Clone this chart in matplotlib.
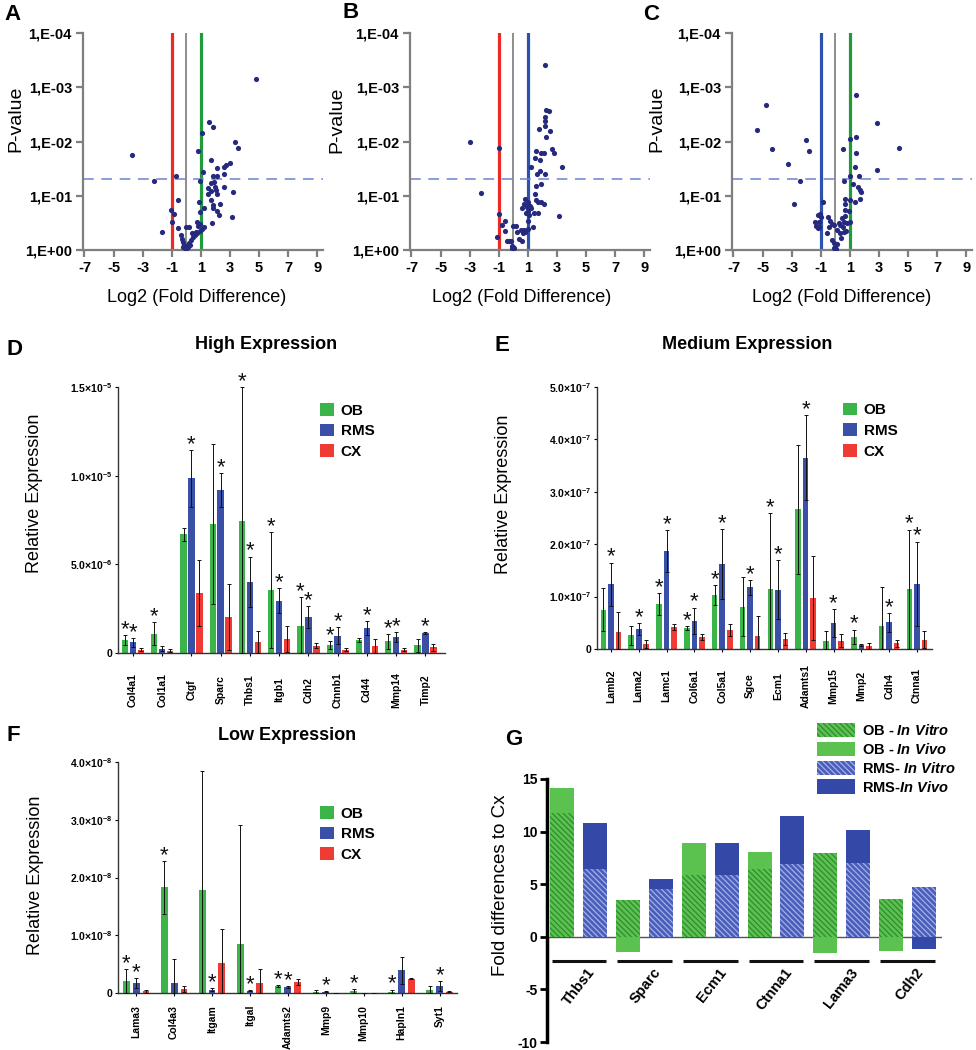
import numpy as np
import matplotlib.pyplot as plt
from matplotlib.patches import Patch

plt.rcParams['font.family'] = ['Liberation Sans', 'DejaVu Sans']
plt.rcParams['mathtext.fontset'] = 'custom'
plt.rcParams['mathtext.rm'] = 'Liberation Sans:bold'
plt.rcParams['mathtext.it'] = 'Liberation Sans:italic:bold'
plt.rcParams['mathtext.bf'] = 'Liberation Sans:bold'
plt.rcParams['mathtext.default'] = 'rm'
plt.rcParams['axes.unicode_minus'] = False
plt.rcParams['hatch.linewidth'] = 0.9

# ---------------- volcano data (log2 fold difference, p-value) ----------------
a_fc = [4.80, -3.73, 1.53, 1.85, 1.09, 3.36, 3.57, 0.79, 1.72, 3.02, 2.74, 2.58,
        2.10, 1.18, 2.56, 1.87, 2.10, -0.72, -2.19, 0.95, 1.94, 1.72, 1.47, 1.98,
        2.56, 2.05, 1.73, 3.24, 1.47, 2.08, -0.56, 1.72, 0.88, 2.30, 1.83, 1.23,
        1.87, -1.07, 2.10, 0.95, -0.86, 2.28, 3.16, -1.00, 0.75, 1.78, 0.95, 0.84,
        1.23, -0.56, 0.00, 0.21, 1.05, 0.95, -1.66, 0.68, 0.40, -0.36, 0.58, -0.29,
        0.47, 0.31, -0.22, 0.21, -0.13, 0.06, -0.06, 0.15, -0.20, 0.01, 0.26, 0.75]
a_p = [7.1e-4, 0.0175, 0.0043, 0.0053, 0.0071, 0.010, 0.0134, 0.0148, 0.022, 0.025,
       0.027, 0.029, 0.031, 0.036, 0.039, 0.043, 0.043, 0.043, 0.054, 0.054, 0.055,
       0.059, 0.071, 0.068, 0.068, 0.078, 0.083, 0.087, 0.093, 0.094, 0.12, 0.12,
       0.13, 0.14, 0.15, 0.17, 0.17, 0.18, 0.19, 0.20, 0.22, 0.23, 0.25, 0.30, 0.31,
       0.32, 0.33, 0.36, 0.37, 0.39, 0.38, 0.38, 0.41, 0.44, 0.46, 0.46, 0.49, 0.54,
       0.53, 0.64, 0.58, 0.65, 0.70, 0.73, 0.81, 0.84, 0.92, 0.89, 0.87, 0.96, 0.80,
       0.48]

b_fc = [2.17, 2.24, 2.49, 2.15, 2.19, 2.17, 1.74, 2.51, 2.28, -2.97, -0.96, 2.69,
        2.79, 1.53, 2.10, 1.89, 1.48, 1.85, 1.19, 3.38, 1.83, 1.64, 2.17, 1.89, 1.58,
        -2.21, 1.46, 0.80, 1.53, 1.67, 1.89, 2.08, 1.03, 0.71, 1.14, 0.62, 0.94, 3.11,
        -0.98, 0.89, 1.42, 1.67, 1.10, 1.03, -0.59, -0.75, -0.02, 0.21, 1.35, 1.03,
        0.75, -0.59, 0.84, 0.25, 0.64, -1.14, 0.37, 0.62, -0.32, -0.43, -0.18, -0.11,
        -0.02, 0.07, -0.11, 0.53, 0.98, 1.21]
b_p = [3.9e-4, 0.0026, 0.0027, 0.0036, 0.0042, 0.0052, 0.006, 0.0063, 0.0083, 0.010,
       0.013, 0.0135, 0.016, 0.015, 0.016, 0.016, 0.020, 0.022, 0.029, 0.029, 0.035,
       0.039, 0.039, 0.062, 0.066, 0.089, 0.092, 0.114, 0.12, 0.13, 0.13, 0.14, 0.13,
       0.14, 0.155, 0.17, 0.16, 0.24, 0.22, 0.21, 0.21, 0.21, 0.23, 0.29, 0.29, 0.34,
       0.36, 0.36, 0.38, 0.41, 0.43, 0.45, 0.47, 0.47, 0.49, 0.58, 0.63, 0.67, 0.67,
       0.67, 0.69, 0.83, 0.89, 0.92, 0.92, 0.43, 0.19, 0.17]

c_fc = [1.45, -4.75, 2.84, -5.41, 1.41, 1.00, -2.02, -4.34, 0.55, 4.36, -1.84, 1.43,
        -3.23, 1.36, 2.84, 1.02, 1.64, -2.45, 0.59, 1.23, 1.57, 1.68, 1.75, 1.70,
        1.34, 1.02, 0.64, -2.84, -0.86, 0.70, 0.68, 0.95, -1.05, -1.20, -0.95, 0.70,
        -0.50, 0.43, 1.00, -1.36, -1.09, 0.80, -0.25, 0.59, -1.32, -1.09, -0.07, 0.32,
        -0.41, 0.50, -1.20, 0.11, 0.77, 0.59, -0.57, 0.32, 0.39, -0.25, -0.11, 0.11,
        0.00, -0.11, 0.07, -0.36, 0.23]
c_p = [0.0014, 0.0021, 0.0045, 0.0061, 0.0083, 0.0089, 0.0095, 0.0137, 0.0135, 0.013,
       0.015, 0.016, 0.026, 0.029, 0.033, 0.043, 0.043, 0.053, 0.053, 0.061, 0.068,
       0.078, 0.087, 0.115, 0.13, 0.12, 0.116, 0.14, 0.13, 0.14, 0.18, 0.19, 0.22,
       0.23, 0.25, 0.24, 0.25, 0.26, 0.30, 0.31, 0.31, 0.32, 0.33, 0.31, 0.36, 0.37,
       0.35, 0.35, 0.38, 0.38, 0.40, 0.42, 0.45, 0.46, 0.48, 0.48, 0.61, 0.65, 0.75,
       0.78, 0.87, 0.93, 0.97, 0.29, 0.32]

p_ticks = [1, 1e-1, 1e-2, 1e-3, 1e-4]
p_labels = ['1,E+00', '1,E-01', '1,E-02', '1,E-03', '1,E-04']

# ---------------- D: high expression (x 1e-6) ----------------
d_genes = ['Col4a1', 'Col1a1', 'Ctgf', 'Sparc', 'Thbs1', 'Itgb1', 'Cdh2', 'Ctnnb1',
           'Cd44', 'Mmp14', 'Timp2']
d_ob = [0.75, 1.09, 6.70, 7.26, 7.45, 3.56, 1.54, 0.47, 0.73, 0.66, 0.43]
d_ob_sd = [0.28, 0.64, 0.37, 4.50, 7.55, 3.25, 1.61, 0.22, 0.11, 0.41, 0.36]
d_rms = [0.60, 0.24, 9.85, 9.19, 4.03, 2.96, 2.03, 0.98, 1.41, 0.90, 1.13]
d_rms_sd = [0.25, 0.14, 1.59, 0.94, 1.41, 0.70, 0.60, 0.46, 0.37, 0.26, 0.05]
d_cx = [0.19, 0.13, 3.38, 2.03, 0.60, 0.79, 0.41, 0.19, 0.38, 0.19, 0.32]
d_cx_sd = [0.09, 0.10, 1.87, 1.87, 0.66, 0.71, 0.15, 0.09, 0.41, 0.09, 0.21]
d_ob_star = [1, 1, 0, 0, 1, 1, 1, 1, 0, 1, 0]
d_rms_star = [1, 0, 1, 1, 1, 1, 1, 1, 1, 1, 1]
d_yticks = [0, 5, 10, 15]
d_ylabels = ['0', '5.0×10$^{-6}$', '1.0×10$^{-5}$', '1.5×10$^{-5}$']

# ---------------- E: medium expression (x 1e-7) ----------------
e_genes = ['Lamb2', 'Lama2', 'Lamc1', 'Col6a1', 'Col5a1', 'Sgce', 'Ecm1', 'Adamts1',
           'Mmp15', 'Mmp2', 'Cdh4', 'Ctnna1']
e_ob = [0.75, 0.26, 0.86, 0.40, 1.03, 0.81, 1.15, 2.67, 0.15, 0.23, 0.43, 1.14]
e_ob_sd = [0.41, 0.18, 0.21, 0.04, 0.19, 0.57, 1.44, 1.23, 0.19, 0.14, 0.76, 1.14]
e_rms = [1.24, 0.38, 1.87, 0.54, 1.62, 1.18, 1.13, 3.65, 0.49, 0.07, 0.51, 1.24]
e_rms_sd = [0.41, 0.11, 0.40, 0.25, 0.67, 0.14, 0.56, 0.81, 0.27, 0.02, 0.18, 0.81]
e_cx = [0.32, 0.095, 0.42, 0.23, 0.36, 0.25, 0.19, 0.98, 0.16, 0.05, 0.11, 0.18]
e_cx_sd = [0.38, 0.07, 0.06, 0.06, 0.11, 0.38, 0.11, 0.80, 0.13, 0.06, 0.07, 0.16]
e_ob_star = [0, 0, 1, 1, 1, 0, 1, 0, 0, 1, 0, 1]
e_rms_star = [1, 1, 1, 1, 1, 1, 1, 1, 1, 0, 1, 1]
e_yticks = [0, 1, 2, 3, 4, 5]
e_ylabels = ['0', '1.0×10$^{-7}$', '2.0×10$^{-7}$', '3.0×10$^{-7}$', '4.0×10$^{-7}$',
             '5.0×10$^{-7}$']

# ---------------- F: low expression (x 1e-8) ----------------
f_genes = ['Lama3', 'Col4a3', 'Itgam', 'Itgal', 'Adamts2', 'Mmp9', 'Mmp10', 'Hapln1', 'Syt1']
f_ob = [0.20, 1.83, 1.78, 0.84, 0.12, 0.02, 0.03, 0.01, 0.06]
f_ob_sd = [0.22, 0.46, 2.07, 2.07, 0.02, 0.04, 0.04, 0.05, 0.06]
f_rms = [0.17, 0.18, 0.06, 0.04, 0.10, 0.02, 0.005, 0.39, 0.12]
f_rms_sd = [0.09, 0.41, 0.02, 0.01, 0.02, 0.01, 0.0, 0.24, 0.08]
f_cx = [0.03, 0.07, 0.52, 0.17, 0.19, 0.005, 0.005, 0.25, 0.02]
f_cx_sd = [0.03, 0.05, 0.58, 0.25, 0.06, 0.0, 0.0, 0.01, 0.01]
f_ob_star = [1, 1, 0, 0, 1, 0, 1, 1, 0]
f_rms_star = [1, 0, 1, 1, 1, 1, 0, 0, 1]
f_yticks = [0, 1, 2, 3, 4]
f_ylabels = ['0', '1.0×10$^{-8}$', '2.0×10$^{-8}$', '3.0×10$^{-8}$', '4.0×10$^{-8}$']

# ---------------- G: fold differences to Cx ----------------
g_genes = ['Thbs1', 'Sparc', 'Ecm1', 'Ctnna1', 'Lama3', 'Cdh2']
g_ob_vitro = [11.75, 3.54, 5.9, 6.4, 8.0, 3.63]
g_ob_vivo = [14.1, -1.48, 8.9, 8.05, -1.58, -1.33]
g_rms_vitro = [6.4, 4.5, 5.85, 6.95, 7.0, 4.74]
g_rms_vivo = [10.8, 5.53, 8.9, 11.5, 10.17, -1.17]

GREEN = '#3bb54a'
BLUE = '#3a4fa6'
RED = '#ee3b33'
DOT = '#262a7e'

W, H = 976, 1050
fig = plt.figure(figsize=(W / 100, H / 100), dpi=100)


def add_ax(x0, y0, x1, y1):
    # box in pixels: left, top, right, bottom
    return fig.add_axes([x0 / W, 1 - y1 / H, (x1 - x0) / W, (y1 - y0) / H])


def volcano(ax, fc, pv, left_col, right_col):
    ax.axvline(-1, color=left_col, lw=2.3, zorder=1)
    ax.axvline(0, color='#858585', lw=1.3, zorder=1)
    ax.axvline(1, color=right_col, lw=2.3, zorder=1)
    ax.axhline(0.05, color='#6f80d2', lw=1.1, dashes=(7, 5), zorder=1)
    ax.scatter(fc, pv, s=14, color=DOT, lw=0, zorder=3)
    ax.set_yscale('log')
    ax.set_ylim(1, 1e-4)
    ax.set_xlim(-7.1, 9.4)
    ax.yaxis.set_minor_locator(plt.NullLocator())
    ax.set_yticks(p_ticks)
    ax.set_yticklabels(p_labels)
    ax.set_xticks(np.arange(-7, 10, 2))
    for s in ['top', 'right']:
        ax.spines[s].set_visible(False)
    for s in ['left', 'bottom']:
        ax.spines[s].set_color('#7f7f7f')
        ax.spines[s].set_linewidth(1.6)
    ax.tick_params(color='#7f7f7f', width=1.6, length=5, labelsize=10.5, pad=3)
    plt.setp(ax.get_xticklabels() + ax.get_yticklabels(), fontweight='bold')


ax_a = add_ax(83, 33, 323, 250)
volcano(ax_a, a_fc, a_p, '#ee2a24', '#1f9a3c')
ax_b = add_ax(410, 33, 650, 250)
volcano(ax_b, b_fc, b_p, '#ee2a24', '#2c52b0')
ax_c = add_ax(732, 33, 972, 250)
volcano(ax_c, c_fc, c_p, '#2c52b0', '#1f9a3c')

for x, y in [(16, 119), (337, 120), (657, 119)]:
    fig.text(x / W, 1 - y / H, 'P-value', rotation=90, ha='center', va='center', fontsize=14)
for x in [197, 522, 842]:
    fig.text(x / W, 1 - 297 / H, 'Log2 (Fold Difference)', ha='center', va='center', fontsize=13)


def expr_panel(ax, genes, ob, ob_sd, rms, rms_sd, cx, cx_sd, ob_star, rms_star,
               off, width, yticks, ylabels, xlim, lab_size, lab_pad, centered):
    x = np.arange(len(genes))
    series = [(ob, ob_sd, GREEN, -off, ob_star), (rms, rms_sd, BLUE, 0, rms_star),
              (cx, cx_sd, RED, off, None)]
    for vals, sds, col, dx, stars in series:
        vals = np.array(vals)
        sds = np.array(sds)
        ax.bar(x + dx, vals, width, color=col, zorder=2)
        ax.errorbar(x + dx, vals, yerr=[np.minimum(sds, vals), sds], fmt='none',
                     ecolor='#111111', elinewidth=0.7, capsize=1.6, capthick=0.7,
                     zorder=3, clip_on=False)
        if stars is not None:
            for i, s in enumerate(stars):
                if s:
                    ax.text(x[i] + dx, vals[i] + sds[i], '*', ha='center', va='baseline',
                            fontsize=16, color='#111111')
    ax.set_xlim(*xlim)
    ax.set_ylim(yticks[0], yticks[-1])
    ax.set_yticks(yticks)
    ax.set_yticklabels(ylabels)
    ax.set_xticks(x)
    ax.set_xticklabels(genes, rotation=90, fontsize=lab_size, fontweight='bold')
    if centered:
        for lbl in ax.get_xticklabels():
            lbl.set_va('center')
    for s in ['top', 'right']:
        ax.spines[s].set_visible(False)
    for s in ['left', 'bottom']:
        ax.spines[s].set_color('#333333')
        ax.spines[s].set_linewidth(1.0)
    ax.tick_params(axis='y', length=2.5, width=0.8, labelsize=7.5, pad=1.5)
    ax.tick_params(axis='x', length=2.5, width=0.8, pad=lab_pad)
    plt.setp(ax.get_yticklabels(), fontweight='bold')
    handles = [Patch(facecolor=GREEN), Patch(facecolor=BLUE), Patch(facecolor=RED)]
    return handles


legend_kw = dict(loc='upper left', frameon=False, prop={'weight': 'bold', 'size': 11},
                 handlelength=0.9, handleheight=0.9, handletextpad=0.45,
                 labelspacing=0.4, borderpad=0, borderaxespad=0)

ax_d = add_ax(118, 387, 445, 653)
h = expr_panel(ax_d, d_genes, d_ob, d_ob_sd, d_rms, d_rms_sd, d_cx, d_cx_sd,
               d_ob_star, d_rms_star, 0.27, 0.22, d_yticks, d_ylabels, (-0.51, 10.67),
               7.5, 24, True)
ax_d.legend(h, ['OB', 'RMS', 'CX'], bbox_to_anchor=(0.618, 0.94), **legend_kw)
fig.text(266 / W, 1 - 345 / H, 'High Expression', ha='center', va='center',
         fontsize=13, fontweight='bold')
fig.text(35 / W, 1 - 493 / H, 'Relative Expression', rotation=90, ha='center',
         va='center', fontsize=13)

ax_e = add_ax(597, 387, 932, 649)
h = expr_panel(ax_e, e_genes, e_ob, e_ob_sd, e_rms, e_rms_sd, e_cx, e_cx_sd,
               e_ob_star, e_rms_star, 0.27, 0.2, e_yticks, e_ylabels, (-0.5, 11.54),
               7.5, 24, True)
ax_e.legend(h, ['OB', 'RMS', 'CX'], bbox_to_anchor=(0.734, 0.94), **legend_kw)
fig.text(747 / W, 1 - 345 / H, 'Medium Expression', ha='center', va='center',
         fontsize=13, fontweight='bold')
fig.text(503 / W, 1 - 494 / H, 'Relative Expression', rotation=90, ha='center',
         va='center', fontsize=13)

ax_f = add_ax(118, 762, 457, 993)
h = expr_panel(ax_f, f_genes, f_ob, f_ob_sd, f_rms, f_rms_sd, f_cx, f_cx_sd,
               f_ob_star, f_rms_star, 0.26, 0.18, f_yticks, f_ylabels, (-0.48, 8.46),
               7.5, 6, False)
ax_f.legend(h, ['OB', 'RMS', 'CX'], bbox_to_anchor=(0.596, 0.81), **legend_kw)
fig.text(287 / W, 1 - 736 / H, 'Low Expression', ha='center', va='center',
         fontsize=13, fontweight='bold')
fig.text(36 / W, 1 - 875 / H, 'Relative Expression', rotation=90, ha='center',
         va='center', fontsize=13)

# ---------------- G ----------------
ax_g = add_ax(547, 779, 942, 1042)
G_LIGHT = '#5cc24f'
G_HATCH = '#2f8a33'
B_SOLID = '#3448a8'
B_VITRO = '#4a5dba'
B_HATCH = '#a3b0e6'
HATCH = '\\\\\\\\\\\\'
xg = np.arange(len(g_genes)) * 2
ax_g.bar(xg, g_ob_vivo, 0.73, color=G_LIGHT, lw=0, zorder=2)
ax_g.bar(xg, g_ob_vitro, 0.73, facecolor=G_LIGHT, edgecolor=G_HATCH, hatch=HATCH,
         lw=0, zorder=3)
ax_g.bar(xg + 1, g_rms_vivo, 0.73, color=B_SOLID, lw=0, zorder=2)
ax_g.bar(xg + 1, g_rms_vitro, 0.73, facecolor=B_VITRO, edgecolor=B_HATCH, hatch=HATCH,
         lw=0, zorder=3)
ax_g.axhline(0, color='#555555', lw=1.0, zorder=1)
ax_g.hlines([-2.3] * len(g_genes), xg + 0.5 - 0.83, xg + 0.5 + 0.83, color='#111111',
            lw=2.2)
for i, g in enumerate(g_genes):
    ax_g.text(xg[i] + 0.75, -2.75, g, rotation=52, ha='right', va='top',
              rotation_mode='anchor', fontsize=10.5, fontweight='bold')
ax_g.set_xlim(-0.47, 11.55)
ax_g.set_ylim(-10, 15)
ax_g.set_yticks([-10, -5, 0, 5, 10, 15])
ax_g.set_xticks([])
for s in ['top', 'right', 'bottom']:
    ax_g.spines[s].set_visible(False)
ax_g.spines['left'].set_linewidth(2.5)
ax_g.tick_params(axis='y', length=5, width=2, labelsize=10, pad=2)
plt.setp(ax_g.get_yticklabels(), fontweight='bold')
g_handles = [Patch(facecolor=G_LIGHT, edgecolor=G_HATCH, hatch=HATCH, lw=0),
             Patch(facecolor=G_LIGHT, lw=0),
             Patch(facecolor=B_VITRO, edgecolor=B_HATCH, hatch=HATCH, lw=0),
             Patch(facecolor=B_SOLID, lw=0)]
g_labels = [r'OB - $\mathit{In\ Vitro}$', r'OB - $\mathit{In\ Vivo}$',
            r'RMS- $\mathit{In\ Vitro}$', r'RMS-$\mathit{In\ Vivo}$']
ax_g.legend(g_handles, g_labels, loc='upper left', bbox_to_anchor=(817 / W, 1 - 723 / H),
            bbox_transform=fig.transFigure, frameon=False,
            prop={'weight': 'bold', 'size': 10.5}, handlelength=2.6, handleheight=1.15,
            handletextpad=0.5, labelspacing=0.25, borderpad=0, borderaxespad=0)
fig.text(501 / W, 1 - 885 / H, 'Fold differences to Cx', rotation=90, ha='center',
         va='center', fontsize=13.5)

# panel letters
for lab, x, y in [('A', 4, 4), ('B', 342, 2), ('C', 643, 4), ('D', 7, 339),
                  ('E', 495, 335), ('F', 7, 725), ('G', 505, 729)]:
    fig.text(x / W, 1 - y / H, lab, ha='left', va='top', fontsize=16, fontweight='bold')

fig.savefig('out.png', dpi=100)
